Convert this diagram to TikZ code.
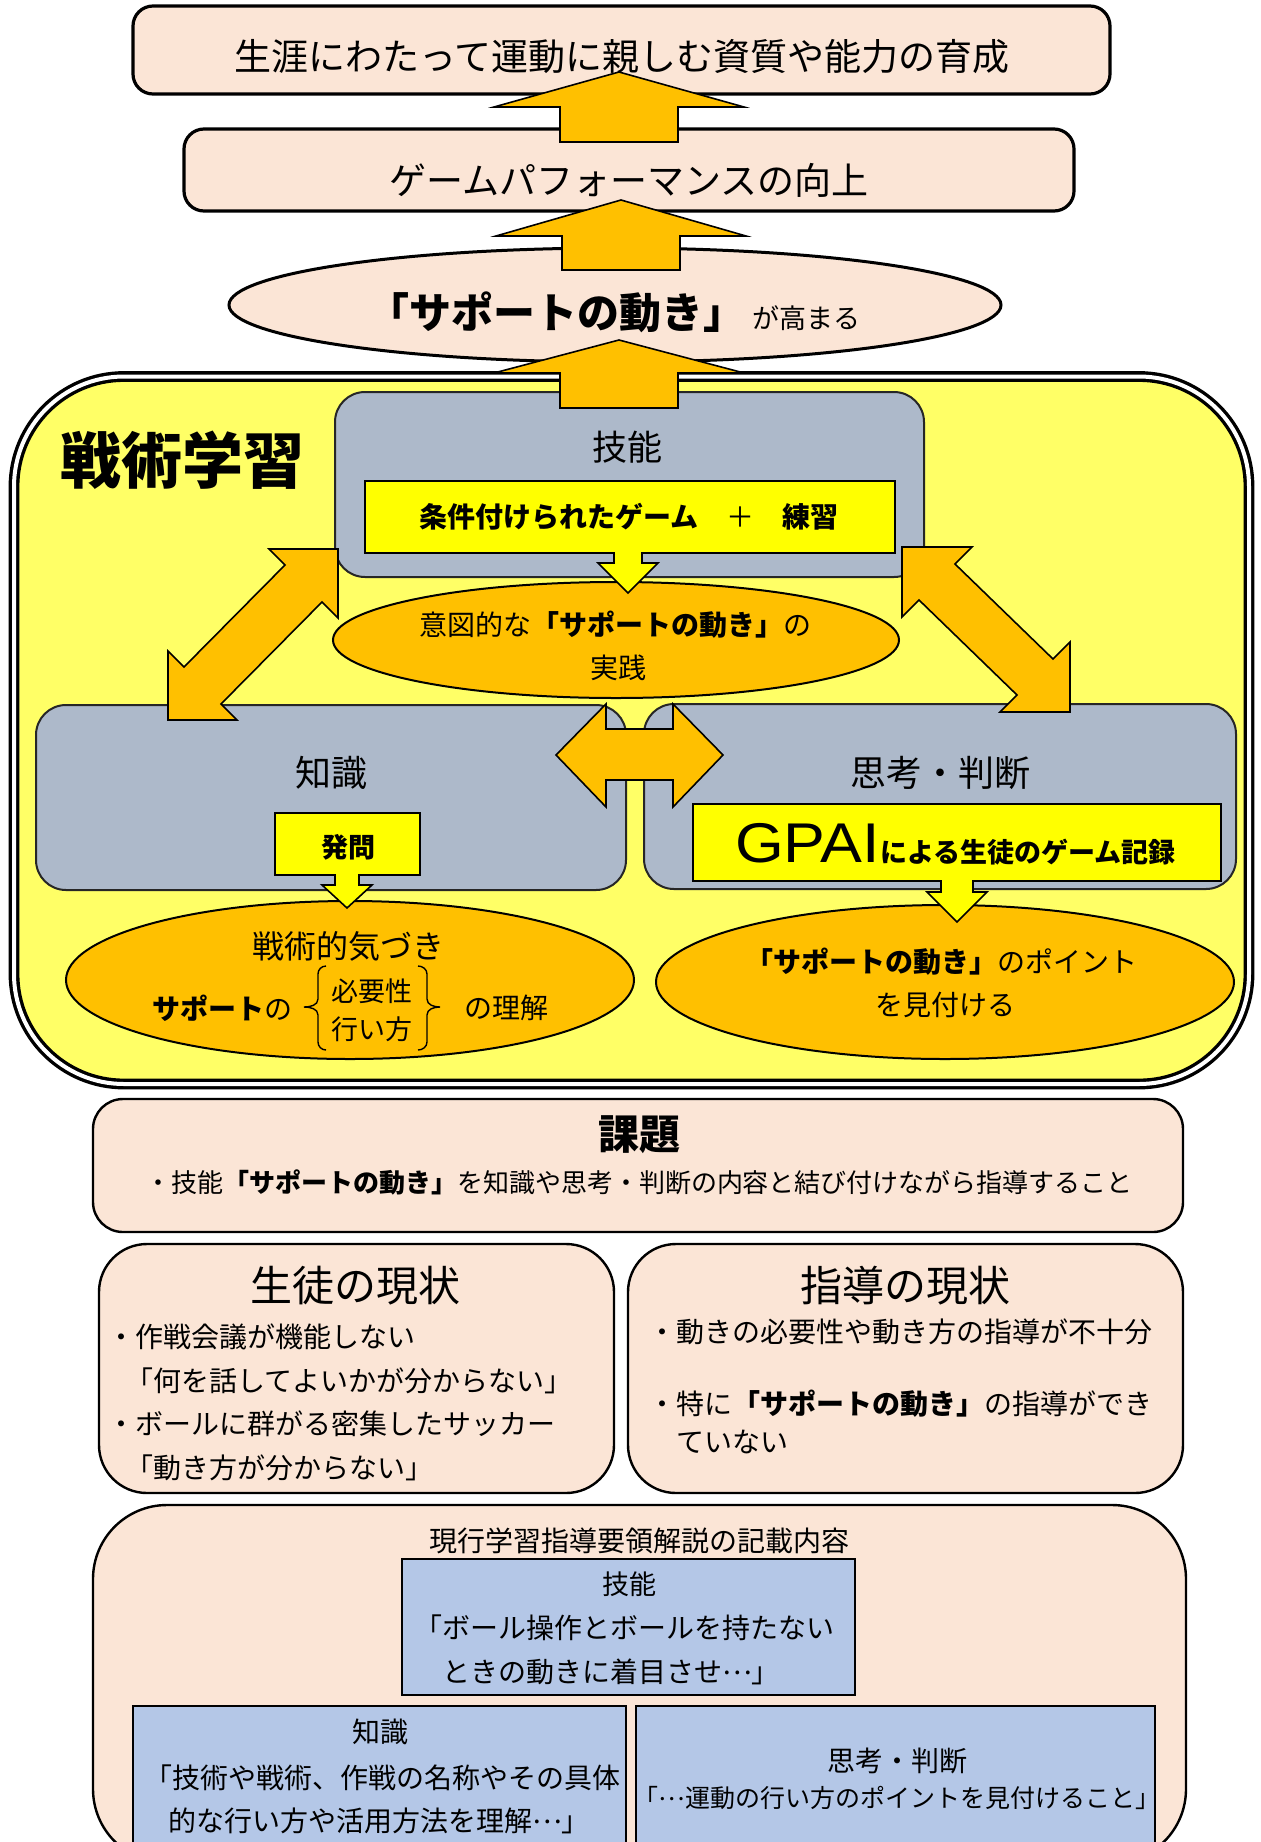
\documentclass[tikz,border=0pt]{standalone}
\usepackage{fontspec}
\setmainfont{Noto Sans CJK JP}
\newfontfamily\gpaifont{Liberation Sans}
\definecolor{cPink}{HTML}{FBE5D6}
\definecolor{cGray}{HTML}{ADB9CA}
\definecolor{cBlue}{HTML}{B4C7E7}
\definecolor{cYelBg}{HTML}{FFFF66}
\definecolor{cYel}{HTML}{FFFF00}
\definecolor{cOrange}{HTML}{FFC000}
\newcommand{\fz}[1]{\fontsize{#1}{#1}\selectfont}
\newcommand{\jell}{\raisebox{0.3em}{…}}
\newcommand{\bigup}[4]{\draw[blk] (#1,#2) -- ({#1+125},#3) -- ({#1+59},#3) -- ({#1+59},#4) -- ({#1-59},#4) -- ({#1-59},#3) -- ({#1-125},#3) -- cycle;}
\newcommand{\smdown}[6]{\filldraw[ylarrow] ({#1-#5},#2) -- ({#1-#5},#3) -- ({#1-#6},#3) -- (#1,#4) -- ({#1+#6},#3) -- ({#1+#5},#3) -- ({#1+#5},#2);}
\begin{document}
\begin{tikzpicture}[x=0.5pt,y=-0.5pt,
  txt/.style={inner sep=0pt,outer sep=0pt,text=black},
  blk/.style={draw=black,line width=0.8pt,fill=cOrange,line join=miter},
  ylarrow/.style={draw=black,line width=0.8pt,fill=cYel},
  pinkbox/.style={draw=black,line width=1.6pt,fill=cPink},
  pinkbox2/.style={draw=black,line width=1.2pt,fill=cPink},
  graybox/.style={draw=black!85,line width=1pt,fill=cGray,rounded corners=15pt},
  ylbox/.style={draw=black,line width=1.1pt,fill=cYel},
  orell/.style={draw=black,line width=1pt,fill=cOrange},
  bluebox/.style={draw=black,line width=1pt,fill=cBlue}]
\useasboundingbox (0,0) rectangle (1260,1842);
\clip (0,0) rectangle (1260,1842);
% ---- top part ----
\draw[pinkbox,rounded corners=10pt] (133,6) rectangle (1110,94);
\draw[pinkbox,rounded corners=10pt] (184,129) rectangle (1074,211);
\draw[pinkbox,line width=1.5pt] (615,305) ellipse [x radius=193pt,y radius=28.5pt];
% ---- tactical learning area ----
\draw[line width=1.7pt,double=white,double distance=2pt,fill=cYelBg,rounded corners=55pt] (14,376.5) rectangle (1249,1084);
\draw[graybox] (335,392) rectangle (924,577);
\draw[graybox] (36,705) rectangle (626,890);
\draw[graybox] (644,704) rectangle (1236,889);
\draw[orell] (616,640) ellipse [x radius=141.5pt,y radius=29pt];
\draw[orell] (350,980) ellipse [x radius=142pt,y radius=39.5pt];
\draw[orell] (945,982) ellipse [x radius=144.5pt,y radius=38.5pt];
\draw[ylbox] (365,481) rectangle (895,553);
\draw[ylbox] (275,813) rectangle (420,875);
\draw[ylbox] (693,804) rectangle (1221,881);
\smdown{628}{552}{563}{593}{14}{30}
\smdown{347}{874}{885}{908}{12}{25}
\smdown{957}{880}{892}{922}{16}{30}
% double block arrows
\draw[blk] (338,549) -- (269,549) -- (285,565) -- (184,667) -- (168,651) -- (168,720) -- (237,720) -- (221,704) -- (322,602) -- (338,618) -- cycle;
\draw[blk] (902,547) -- (972,547) -- (955,564) -- (1053,659) -- (1070,642) -- (1070,712) -- (1000,712) -- (1017,695) -- (919,600) -- (902,617) -- cycle;
\draw[blk] (556,755) -- (606,704) -- (606,729) -- (673,729) -- (673,704) -- (723,755) -- (673,807) -- (673,780) -- (606,780) -- (606,807) -- cycle;
% braces
\draw[line width=0.7pt] (326,966) to[out=180,in=90] (318,974) -- (318,999) to[out=-90,in=0] (304,1007) to[out=0,in=90] (318,1015) -- (318,1042) to[out=-90,in=180] (326,1050);
\draw[line width=0.7pt] (418,966) to[out=0,in=90] (427,974) -- (427,999) to[out=-90,in=180] (440,1007) to[out=180,in=90] (427,1015) -- (427,1042) to[out=-90,in=0] (418,1050);
% up arrows
\bigup{619}{72}{107}{142}
\bigup{621}{200}{236}{270}
\bigup{619}{340}{373}{408}
% ---- lower part ----
\draw[pinkbox2,rounded corners=15pt] (93,1099) rectangle (1183,1232);
\draw[pinkbox2,rounded corners=24pt] (99,1244) rectangle (614,1493);
\draw[pinkbox2,rounded corners=24pt] (628,1244) rectangle (1183,1493);
\draw[pinkbox2,rounded corners=37pt] (93,1505) rectangle (1186,1863);
\draw[bluebox] (402,1559) rectangle (855,1695);
\draw[bluebox] (133,1706) rectangle (626,1852);
\draw[bluebox] (636,1706) rectangle (1155,1852);
% ---- texts ----
\node[txt] (tGoal) at (622,57) {\fz{18.5}生涯にわたって運動に親しむ資質や能力の育成};
\node[txt] (tPerf) at (629,180) {\fz{18.5}ゲームパフォーマンスの向上};
\node[txt,anchor=base west] (tSup) at (367,328) {\bfseries\fz{21}「サポートの動き」};
\node[txt,anchor=base west] (tSupB) at (752,328) {\fz{13.5}が高まる};
\node[txt] (tTac) at (183,460) {\bfseries\fz{30.5}戦術学習};
\node[txt] (tSkill) at (627,447) {\fz{17.5}技能};
\node[txt] (tGame) at (629,517) {\fz{14}{\bfseries 条件付けられたゲーム}　＋　{\bfseries 練習}};
\node[txt] (tInt) at (615,625) {\fz{14}意図的な{\bfseries 「サポートの動き」}の};
\node[txt] (tInt2) at (618,668) {\fz{14}実践};
\node[txt] (tKnow) at (331,773) {\fz{18}知識};
\node[txt] (tThink) at (940,773) {\fz{18}思考・判断};
\node[txt] (tAsk) at (348,847) {\bfseries\fz{13.5}発問};
\node[txt,anchor=base west] (tGpai) at (735,862) {{\gpaifont\fz{28}\scalebox{1.12}[1]{GPAI}}{\bfseries\fz{13.5}による生徒のゲーム記録}};
\node[txt] (tAware) at (348,946) {\fz{16}戦術的気づき};
\node[txt,anchor=west] (tSupOf) at (152,1008) {\fz{14}{\bfseries サポート}の};
\node[txt] (tNeed) at (372,991) {\fz{13.5}必要性};
\node[txt] (tHow) at (372,1029) {\fz{13.5}行い方};
\node[txt] (tUnd) at (506,1008) {\fz{14}の理解};
\node[txt,anchor=west] (tPoint) at (745,962) {\fz{14}{\bfseries 「サポートの動き」}のポイント};
\node[txt] (tFind) at (945,1005) {\fz{14}を見付ける};
\node[txt] (tIssue) at (639,1135) {\bfseries\fz{20.5}課題};
\node[txt] (tIssue2) at (639,1182) {\fz{13}・技能{\bfseries 「サポートの動き」}を知識や思考・判断の内容と結び付けながら指導すること};
\node[txt] (tStu) at (355,1286) {\fz{21}生徒の現状};
\node[txt] (tTea) at (905,1286) {\fz{21}指導の現状};
\node[txt,anchor=west] (s1) at (107,1337) {\fz{14}・作戦会議が機能しない};
\node[txt,anchor=west] (s2) at (125,1381) {\fz{14}「何を話してよいかが分からない」};
\node[txt,anchor=west] (s3) at (107,1424) {\fz{14}・ボールに群がる密集したサッカー};
\node[txt,anchor=west] (s4) at (125,1468) {\fz{14}「動き方が分からない」};
\node[txt,anchor=west] (g1) at (648,1332) {\fz{14}・動きの必要性や動き方の指導が不十分};
\node[txt,anchor=west] (g2) at (648,1404) {\fz{14}・特に{\bfseries 「サポートの動き」}の指導ができ};
\node[txt,anchor=west] (g3) at (676,1442) {\fz{14}ていない};
\node[txt] (tCur) at (639,1541) {\fz{14}現行学習指導要領解説の記載内容};
\node[txt] (b1) at (629,1584) {\fz{13.5}技能};
\node[txt,anchor=west] (b2) at (414,1628) {\fz{14}「ボール操作とボールを持たない};
\node[txt,anchor=west] (b3) at (442,1672) {\fz{14}ときの動きに着目させ\jell」};
\node[txt] (k1) at (380,1732) {\fz{14}知識};
\node[txt,anchor=west] (k2) at (144,1778) {\fz{14}「技術や戦術、作戦の名称やその具体};
\node[txt,anchor=west] (k3) at (168,1821) {\fz{14}的な行い方や活用方法を理解\jell」};
\node[txt] (j1) at (897,1761) {\fz{14}思考・判断};
\node[txt] (j2) at (897,1798) {\fz{12.5}「\jell 運動の行い方のポイントを見付けること」};
\end{tikzpicture}
\end{document}
